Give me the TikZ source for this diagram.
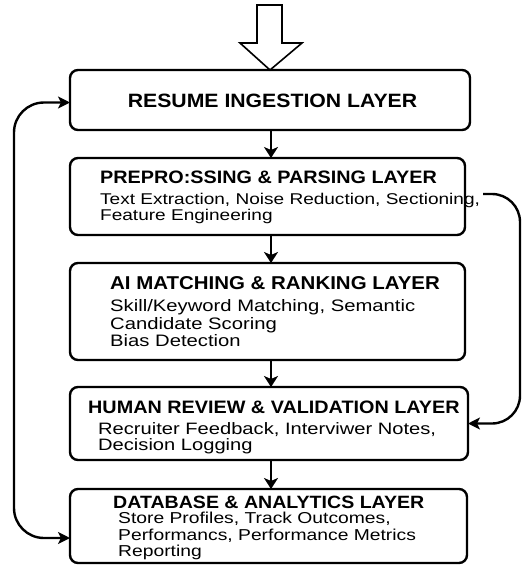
\documentclass[tikz,border=0pt]{standalone}
\usepackage{fontspec}
\setmainfont{Liberation Sans}
\newfontfamily\titlefont[FakeStretch=1.1]{Liberation Sans}
\newfontfamily\bodyfont[FakeStretch=1.22]{Liberation Sans}
\usetikzlibrary{arrows.meta}
\tikzset{
  layerbox/.style={draw, line width=2.4pt, rounded corners=8pt, inner sep=0pt, outer sep=0pt},
  ttl/.style={inner sep=0pt, anchor=base west, font=\titlefont\bfseries\fontsize{#1}{20}\selectfont},
  ttl/.default=18,
  bdy/.style={inner sep=0pt, anchor=base west, font=\bodyfont\fontsize{#1}{18}\selectfont},
  bdy/.default=16,
  flow/.style={line width=2.4pt, -{Stealth[width=14pt,length=11pt,inset=3pt]}},
  loopline/.style={line width=2.4pt, rounded corners=30pt},
  tipr/.tip={Stealth[width=12pt,length=12pt,inset=3pt]},
  hollow/.style={line width=1.6pt, fill=white, line join=miter}
}
\begin{document}
\begin{tikzpicture}[x=1pt,y=-1pt]
\useasboundingbox[fill=white] (0,0) rectangle (523,565);
% boxes
\node[layerbox, minimum width=400pt, minimum height=60pt] (b1) at (270,100) {};
\node[layerbox, minimum width=395pt, minimum height=77pt] (b2) at (267.5,196.5) {};
\node[layerbox, minimum width=395pt, minimum height=97pt] (b3) at (267.5,311.5) {};
\node[layerbox, minimum width=398pt, minimum height=73pt] (b4) at (269,423.5) {};
\node[layerbox, minimum width=397pt, minimum height=74pt] (b5) at (268.5,526) {};
% texts
\node[ttl=19.3, anchor=base] (t1) at (272.5,107.3) {RESUME INGESTION LAYER};
\node[ttl] (t2) at (100,183.3) {PREPRO:SSING \& PARSING LAYER};
\node[bdy=15.6] (t2a) at (100,204.3) {Text Extraction, Noise Reduction, Sectioning,};
\node[bdy=15.6] (t2b) at (100,220.8) {Feature Engineering};
\node[ttl=18.6] (t3) at (110,289.3) {AI MATCHING \& RANKING LAYER};
\node[bdy=16.6] (t3a) at (110,311.7) {Skill/Keyword Matching, Semantic};
\node[bdy=16.6] (t3b) at (110,329.2) {Candidate Scoring};
\node[bdy=16.6] (t3c) at (110,346.7) {Bias Detection};
\node[ttl] (t4) at (88,413.3) {HUMAN REVIEW \& VALIDATION LAYER};
\node[bdy=16.5] (t4a) at (98,434) {Recruiter Feedback, Interviwer Notes,};
\node[bdy=16.5] (t4b) at (98,450.7) {Decision Logging};
\node[ttl=17.8] (t5) at (113,508.3) {DATABASE \& ANALYTICS LAYER};
\node[bdy=15.8] (t5a) at (118,523.3) {Store Profiles, Track Outcomes,};
\node[bdy=15.8] (t5b) at (118,540) {Performancs, Performance Metrics};
\node[bdy=15.8] (t5c) at (118,556.7) {Reporting};
% axis coordinates
\coordinate (ax) at (271,0);
\coordinate (lx) at (14,0);
\coordinate (rx) at (520,0);
\coordinate (fb) at (483,194);
% input hollow arrow
\draw[hollow] (257,5) -- (282,5) -- (282,43) -- (302,43) -- (b1.north) -- (240,43) -- (257,43) -- cycle;
% down flow
\draw[flow] (b1.south -| ax) -- (b2.north -| ax);
\draw[flow] (b2.south -| ax) -- (b3.north -| ax);
\draw[flow] (b3.south -| ax) -- (b4.north -| ax);
\draw[flow] (b4.south -| ax) -- (b5.north -| ax);
% left feedback loop
\draw[loopline, tipr-tipr] ([yshift=-2.5pt]b1.west) -- ([yshift=-2.5pt]b1.west -| lx) -- ([yshift=-12pt]b5.west -| lx) -- ([yshift=-12pt]b5.west);
% right feedback loop
\draw[loopline, rounded corners=28pt, -tipr] (fb) -- (fb -| rx) -- (b4.east -| rx) -- (b4.east);
\end{tikzpicture}
\end{document}
